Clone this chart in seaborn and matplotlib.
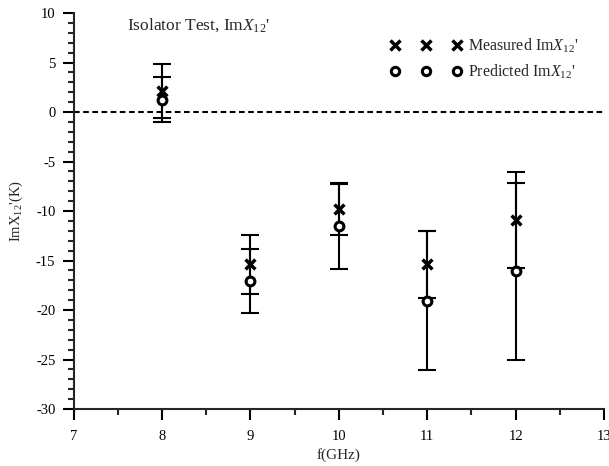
import numpy as np
import pandas as pd
import matplotlib
matplotlib.use("Agg")
import matplotlib.pyplot as plt
from matplotlib.lines import Line2D
from matplotlib.ticker import MultipleLocator
import seaborn as sns

# ─── DATA ───────────────────────────────────────────────────────
freq = [8, 9, 10, 11, 12]
measured = [2.1, -15.4, -9.8, -15.4, -10.9]
meas_err = [2.7, 3.0, 2.6, 3.4, 4.85]
predicted = [1.25, -17.1, -11.55, -19.05, -16.1]
pred_err = [2.3, 3.25, 4.3, 7.0, 8.9]
# ────────────────────────────────────────────────────────────────

df_m = pd.DataFrame({"f": freq, "val": measured, "err": meas_err})
df_p = pd.DataFrame({"f": freq, "val": predicted, "err": pred_err})

sns.set_style("ticks")
plt.rcParams["font.family"] = ["Liberation Serif", "DejaVu Serif"]
plt.rcParams["mathtext.fontset"] = "custom"
plt.rcParams["mathtext.rm"] = "Liberation Serif"
plt.rcParams["mathtext.it"] = "Liberation Serif:italic"

fig = plt.figure(figsize=(6.09, 4.66), dpi=100)
ax = fig.add_axes([0.1207, 0.1223, 0.871, 0.8498])

# zero reference line
ax.axhline(0, color="black", lw=1.5, ls=(0, (2.7, 1.7)), zorder=1)

# error bars
for d in (df_m, df_p):
    ax.errorbar(d["f"], d["val"], yerr=d["err"], fmt="none", ecolor="black",
                elinewidth=1.5, capsize=6.5, capthick=1.5, zorder=2)

sns.scatterplot(data=df_m, x="f", y="val", marker="x", color="black",
                s=50, linewidths=2.5, ax=ax, zorder=3, legend=False)
sns.scatterplot(data=df_p, x="f", y="val", marker="o", facecolor="white",
                edgecolor="black", s=40, linewidth=2.2, ax=ax, zorder=3,
                legend=False)

ax.set_xlim(7, 13)
ax.set_ylim(-30, 10)
ax.xaxis.set_major_locator(MultipleLocator(1))
ax.xaxis.set_minor_locator(MultipleLocator(0.5))
ax.yaxis.set_major_locator(MultipleLocator(5))
ax.yaxis.set_minor_locator(MultipleLocator(1))
ax.tick_params(which="major", direction="out", length=8, width=1.5,
               labelsize=10.5, colors="black")
ax.tick_params(axis="x", which="major", pad=7)
ax.tick_params(axis="y", which="major", pad=5)
ax.tick_params(which="minor", direction="out", length=4.5, width=1.5)
ax.set_yticklabels([f"{int(v)}" for v in ax.get_yticks()])
sns.despine(ax=ax)
for s in ("left", "bottom"):
    ax.spines[s].set_linewidth(1.5)

ax.set_xlabel("f(GHz)", fontsize=11, labelpad=4)
ax.set_ylabel("ImX$_{12}$'(K)", fontsize=10.5, labelpad=8)

ax.text(0.101, 0.97, "Isolator Test, Im$X_{12}$'", transform=ax.transAxes,
        fontsize=12.5, va="center", ha="left")

handles = [
    Line2D([], [], ls="none", marker="x", color="black", markersize=7,
           markeredgewidth=2.5),
    Line2D([], [], ls="none", marker="o", markerfacecolor="white",
           markeredgecolor="black", markersize=6, markeredgewidth=2.2),
]
ax.legend(handles, ["Measured Im$X_{12}$'", "Predicted Im$X_{12}$'"],
          numpoints=3, frameon=False, loc="upper left",
          bbox_to_anchor=(0.597, 0.94), fontsize=11.5, handlelength=4.48,
          handletextpad=0.4, labelspacing=0.45, borderaxespad=0, borderpad=0)

fig.savefig("out.png", dpi=100)
